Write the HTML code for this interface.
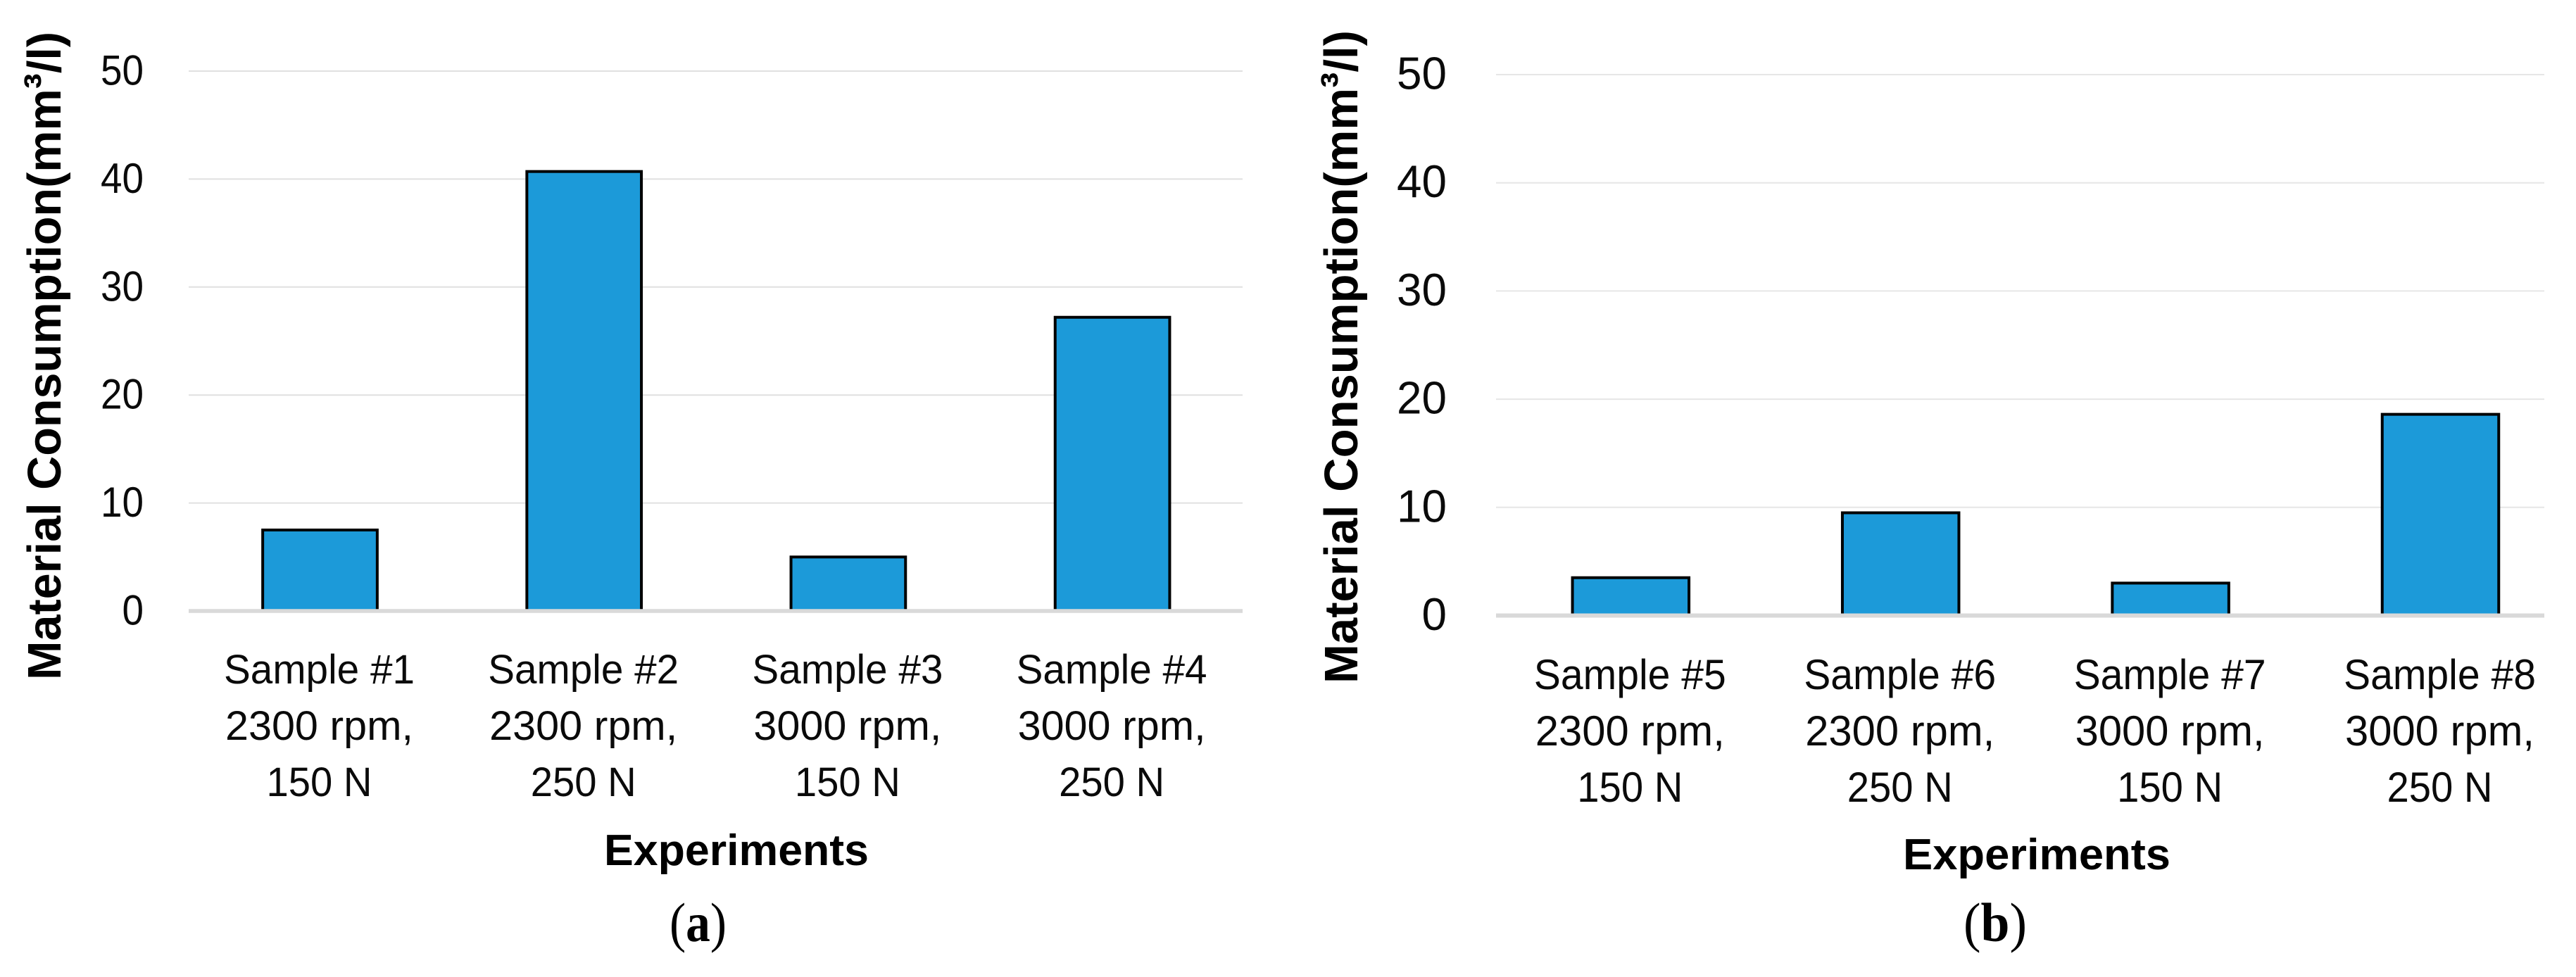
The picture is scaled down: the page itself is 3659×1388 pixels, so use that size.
<!DOCTYPE html>
<html lang="en">
<head>
<meta charset="utf-8">
<title>Material consumption charts</title>
<style>
html,body{margin:0;padding:0;background:#fff;width:3659px;height:1388px;overflow:hidden}
svg{display:block}
text{font-family:"Liberation Sans",sans-serif;fill:#000}
.tick{fill:#0a0a0a}
.serif{font-family:"Liberation Serif",serif}
</style>
</head>
<body>
<svg id="figure" xmlns="http://www.w3.org/2000/svg" width="3659" height="1388" viewBox="0 0 3659 1388">
  <rect width="3659" height="1388" fill="#fff"/>
  <g id="panel-a"></g>
  <g id="panel-b"></g>
  <text transform="translate(86,966) rotate(-90)" font-size="67" font-weight="700" textLength="921" lengthAdjust="spacingAndGlyphs">Material Consumption(mm<tspan dy="-5">³</tspan><tspan dy="5">/l)</tspan></text>
  <text transform="translate(1928,971) rotate(-90)" font-size="67" font-weight="700" textLength="928" lengthAdjust="spacingAndGlyphs">Material Consumption(mm<tspan dy="-5">³</tspan><tspan dy="5">/l)</tspan></text>
  <text x="858" y="1229" font-size="62" font-weight="700" textLength="376" lengthAdjust="spacingAndGlyphs">Experiments</text>
  <text x="2703" y="1235" font-size="62" font-weight="700" textLength="380" lengthAdjust="spacingAndGlyphs">Experiments</text>
  <text class="serif" x="951" y="1337" font-size="78" textLength="81" lengthAdjust="spacingAndGlyphs">(<tspan font-weight="700">a</tspan>)</text>
  <text class="serif" x="2789" y="1337" font-size="78" textLength="90" lengthAdjust="spacingAndGlyphs">(<tspan font-weight="700">b</tspan>)</text>
</svg>
<script>
const yTicks = [0, 10, 20, 30, 40, 50];

const samplesA = ['Sample #1', 'Sample #2', 'Sample #3', 'Sample #4'];
const speedsA = ['2300 rpm,', '2300 rpm,', '3000 rpm,', '3000 rpm,'];
const loadsA = ['150 N', '250 N', '150 N', '250 N'];
const valuesA = [7.5, 40.7, 5.0, 27.2];

const samplesB = ['Sample #5', 'Sample #6', 'Sample #7', 'Sample #8'];
const speedsB = ['2300 rpm,', '2300 rpm,', '3000 rpm,', '3000 rpm,'];
const loadsB = ['150 N', '250 N', '150 N', '250 N'];
const valuesB = [3.5, 9.5, 3.0, 18.6];

const NS = 'http://www.w3.org/2000/svg';

function make(parent, tag, attrs, text) {
  const el = document.createElementNS(NS, tag);
  for (const k in attrs) el.setAttribute(k, attrs[k]);
  if (text !== undefined) el.textContent = text;
  parent.appendChild(el);
  return el;
}

function drawPanel(parent, layout, samples, speeds, loads, values) {
  const yScale = v => layout.y0 + (layout.y50 - layout.y0) * v / 50;
  const xScale = i => layout.firstCentre + layout.band * i;

  yTicks.forEach(t => {
    if (t === 0) return;
    const grid = make(parent, 'line', {x1: layout.left, x2: layout.right, y1: yScale(t), y2: yScale(t), stroke: layout.gridColor, 'stroke-width': 2});
    
    
  });

  yTicks.forEach(t => {
    const str = String(t);
    const label = make(parent, 'text', {class: 'tick', x: layout.tickRight, y: yScale(t) + layout.tickDy, 'font-size': layout.tickSize, 'text-anchor': 'end', textLength: layout.tickCharWidth * str.length, lengthAdjust: 'spacingAndGlyphs'}, str);
    
    
  });

  values.forEach((v, i) => {
    const w = layout.barWidth;
    const bar = make(parent, 'rect', {x: xScale(i) - w / 2, y: yScale(v), width: w, height: yScale(0) - yScale(v), fill: '#1c9ad9', stroke: '#000', 'stroke-width': 4});
    
    

    const lines = [samples[i], speeds[i], loads[i]];
    lines.forEach((line, n) => {
      const label = make(parent, 'text', {class: 'tick', x: xScale(i) - 1, y: layout.labelBase + 80 * n, 'font-size': layout.labelSize, 'text-anchor': 'middle', textLength: layout.labelLengths[n], lengthAdjust: 'spacingAndGlyphs'}, line);
      
      
    });
  });

  const axis = make(parent, 'line', {x1: layout.left, x2: layout.right, y1: yScale(0), y2: yScale(0), stroke: '#d9d9d9', 'stroke-width': layout.axisWidth});
  
  
}

drawPanel(document.getElementById('panel-a'),
  {left: 268, right: 1765, firstCentre: 454.5, band: 375.2, y0: 868, y50: 101, tickRight: 204, tickDy: 19.5, tickSize: 60, tickCharWidth: 30.5, barWidth: 162.7, labelBase: 971, labelSize: 58, labelLengths: [271, 267, 150], gridColor: '#e0e0e0', axisWidth: 5.4},
  samplesA, speedsA, loadsA, valuesA);

drawPanel(document.getElementById('panel-b'),
  {left: 2125, right: 3614, firstCentre: 2316.3, band: 383.4, y0: 874.5, y50: 106, tickRight: 2055, tickDy: 20.5, tickSize: 65, tickCharWidth: 35.5, barWidth: 165.5, labelBase: 979, labelSize: 60, labelLengths: [273, 269, 150], gridColor: '#e6e6e6', axisWidth: 6},
  samplesB, speedsB, loadsB, valuesB);
</script>
</body>
</html>
